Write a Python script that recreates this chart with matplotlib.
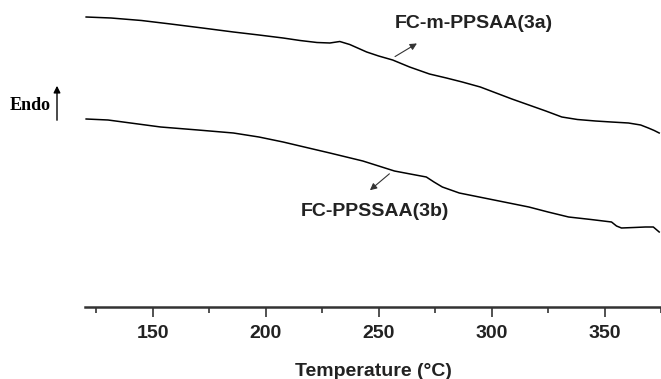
import numpy as np
import matplotlib
matplotlib.use('Agg')
import matplotlib.pyplot as plt

# DSC traces (heat flow in arbitrary units)
temp_3a = [120.5, 131.5, 145.0, 157.9, 172.0, 185.7, 197.0, 207.7, 215.2, 222.7,
           228.4, 232.8, 237.2, 244.7, 250.0, 256.2, 263.7, 272.5, 280.0, 287.0,
           295.0, 302.0, 309.0, 316.5, 324.0, 331.1, 338.0, 346.0, 353.0, 360.6,
           366.0, 369.4, 372.0, 374.2]
flow_3a = [2.90, 2.89, 2.865, 2.83, 2.79, 2.75, 2.72, 2.69, 2.665, 2.645,
           2.64, 2.655, 2.625, 2.55, 2.51, 2.47, 2.40, 2.33, 2.29, 2.25,
           2.20, 2.14, 2.08, 2.02, 1.96, 1.90, 1.875, 1.86, 1.85, 1.84,
           1.82, 1.79, 1.765, 1.74]

temp_3b = [120.5, 130.2, 153.5, 170.0, 185.7, 197.0, 207.7, 215.2, 228.4, 243.0,
           250.0, 257.0, 264.0, 271.1, 274.5, 278.2, 285.7, 294.5, 303.3, 316.5,
           325.0, 334.1, 344.0, 353.1, 355.3, 357.5, 363.0, 368.1, 371.6, 374.2]
flow_3b = [1.88, 1.87, 1.80, 1.77, 1.74, 1.70, 1.65, 1.61, 1.54, 1.46,
           1.41, 1.36, 1.33, 1.30, 1.25, 1.20, 1.14, 1.10, 1.06, 1.00,
           0.95, 0.90, 0.875, 0.85, 0.81, 0.79, 0.795, 0.80, 0.80, 0.75]

major_ticks = [150, 200, 250, 300, 350]
minor_ticks = [125, 175, 225, 275, 325, 375]

fig = plt.figure(figsize=(6.61, 3.79), dpi=100)
ax = fig.add_axes([85 / 661, 72 / 379, 1 - 85 / 661, 1 - 72 / 379])

ax.plot(temp_3a, flow_3a, color='black', lw=1.1)
ax.plot(temp_3b, flow_3b, color='black', lw=1.1)

ax.set_xlim(120, 374)
ax.set_ylim(0, 3.07)

for s in ['top', 'right', 'left']:
    ax.spines[s].set_visible(False)
ax.spines['bottom'].set_linewidth(1.8)
ax.spines['bottom'].set_color('#333333')
ax.set_yticks([])
ax.set_xticks(major_ticks)
ax.set_xticks(minor_ticks, minor=True)
ax.tick_params(axis='x', which='major', direction='out', length=7, width=1.2,
               color='#333333', pad=6, labelsize=14)
ax.tick_params(axis='x', which='minor', direction='out', length=4, width=1.2,
               color='#333333')
for lbl in ax.get_xticklabels():
    lbl.set_fontfamily('Liberation Sans')
    lbl.set_fontweight('bold')
    lbl.set_color('#222222')

ax.set_xlabel('Temperature (°C)', fontsize=14, fontweight='bold',
              family='Liberation Sans', labelpad=15, color='#222222')

# labels with little arrows pointing at the curves
ax.annotate('', xy=(268, 2.65), xytext=(256.2, 2.49),
            arrowprops=dict(arrowstyle='-|>', color='#333333', lw=0.8,
                            mutation_scale=10))
ax.text(257, 2.84, 'FC-m-PPSAA(3a)', fontsize=14, fontweight='bold',
        family='Liberation Sans', va='center', ha='left', color='#222222')

ax.annotate('', xy=(245.2, 1.15), xytext=(255.7, 1.35),
            arrowprops=dict(arrowstyle='-|>', color='#333333', lw=0.8,
                            mutation_scale=10))
ax.text(215.5, 0.95, 'FC-PPSSAA(3b)', fontsize=14, fontweight='bold',
        family='Liberation Sans', va='center', ha='left', color='#222222')

# Endo marker on the left, outside the axes
fig.text(10 / 661, 1 - 105 / 379, 'Endo', fontsize=13, fontweight='bold',
         family='Liberation Serif', va='center', ha='left')
fig.add_artist(matplotlib.patches.FancyArrowPatch(
    (57 / 661, 1 - 123 / 379), (57 / 661, 1 - 83 / 379),
    transform=fig.transFigure, arrowstyle='-|>', mutation_scale=10,
    color='black', lw=1.0))

fig.savefig('out.png', dpi=100)
